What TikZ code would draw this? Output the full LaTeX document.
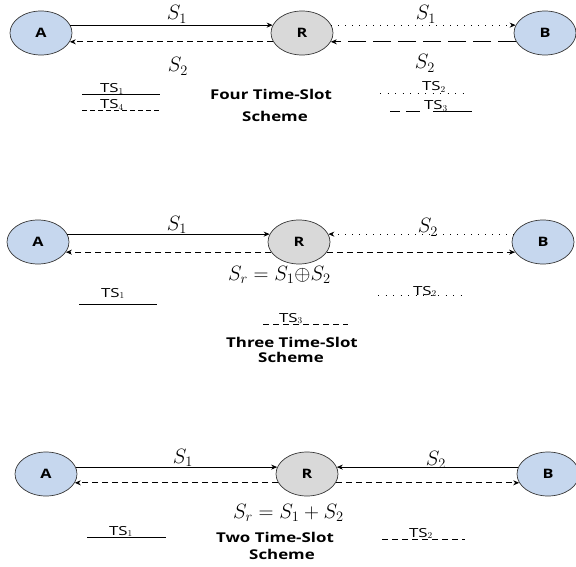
\documentclass[tikz,border=0pt]{standalone}
\usepackage{fontspec}
\newfontfamily\lbl[FakeStretch=1.25]{Open Sans}
\newfontfamily\slotfont[FakeStretch=1.35]{Open Sans}
\usetikzlibrary{shapes.geometric,arrows.meta}
\definecolor{endfill}{RGB}{198,215,238}
\definecolor{relayfill}{RGB}{217,217,217}
\definecolor{rim}{RGB}{55,55,55}

\begin{document}
\begin{tikzpicture}[x=1pt,y=-1pt,
  term/.style={ellipse,draw=rim,line width=0.7pt,minimum width=62pt,minimum height=44pt,
    inner sep=0pt,font=\lbl\bfseries\fontsize{13}{13}\selectfont},
  endpt/.style={term,fill=endfill},
  relay/.style={term,fill=relayfill},
  link/.style={line width=0.7pt,-{Stealth[length=6pt,width=5pt]}},
  dashedlink/.style={link,dash pattern=on 6pt off 4pt},
  dottedlink/.style={link,dash pattern=on 1pt off 6pt},
  longdash/.style={link,dash pattern=on 18pt off 7pt},
  sig/.style={font=\fontsize{22}{26}\selectfont,anchor=base,inner sep=0pt},
  eqn/.style={font=\fontsize{22}{26}\selectfont,anchor=base west,inner sep=0pt},
  slot/.style={line width=0.7pt},
  slotlbl/.style={font=\slotfont\fontsize{12.5}{14}\selectfont,anchor=base,inner sep=0pt},
  scheme/.style={font=\lbl\bfseries\fontsize{13.5}{17}\selectfont,anchor=base,inner sep=0pt}
]
\useasboundingbox[fill=white] (0,0) rectangle (576,567);

% ---------- four time-slot scheme ----------
\node[endpt] (A1) at (41,33) {A};
\node[relay] (R1) at (302,33) {R};
\node[endpt] (B1) at (545,33) {B};
\draw[link] (A1.15) -- (R1.165);
\draw[dashedlink] (R1.197) -- (A1.343);
\draw[dottedlink] (R1.15) -- (B1.165);
\draw[longdash] (B1.197) -- (R1.343);
\node[sig] (s1a) at (177,20) {$S_1$};
\node[sig] (s2a) at (178,72) {$S_2$};
\node[sig] (s1b) at (426,20) {$S_1$};
\node[sig] (s2b) at (425,69) {$S_2$};

\draw[slot] (82,94) -- (160,94);
\draw[slot,dash pattern=on 5pt off 3pt] (82,110) -- (160,110);
\draw[slot,dash pattern=on 1pt off 6.5pt] (380,93) -- (470,93);
\draw[slot,dash pattern=on 10pt off 6pt on 14pt off 13pt on 40pt off 0pt] (390,111) -- (472,111);
\node[slotlbl] (ts1a) at (112,93) {TS$_1$};
\node[slotlbl] (ts4a) at (112,109) {TS$_4$};
\node[slotlbl] (ts2a) at (434,91) {TS$_2$};
\node[slotlbl] (ts3a) at (436,110) {TS$_3$};
\node[scheme] (h1) at (271,100) {Four Time-Slot};
\node[scheme] (h1b) at (275,122) {Scheme};

% ---------- three time-slot scheme ----------
\node[endpt] (A2) at (38,242) {A};
\node[relay] (R2) at (299,242) {R};
\node[endpt] (B2) at (543,242) {B};
\draw[link] (A2.15) -- (R2.165);
\draw[dashedlink] (R2.200) -- (A2.340);
\draw[dottedlink] (B2.165) -- (R2.15);
\draw[dashedlink] (R2.340) -- (B2.200);
\node[sig] (s1c) at (177,230) {$S_1$};
\node[sig] (s2c) at (428,233) {$S_2$};
\node[eqn] (eq2) at (228,280) {$S_r = S_1 {\oplus} S_2$};

\draw[slot] (79,304) -- (157,304);
\draw[slot,dash pattern=on 1pt off 6.5pt] (378,295) -- (465,295);
\draw[slot,dash pattern=on 6pt off 4pt] (263,324) -- (348,324);
\node[slotlbl] (ts1b) at (113,297) {TS$_1$};
\node[slotlbl] (ts2b) at (425,295) {TS$_2$};
\node[slotlbl] (ts3b) at (291,322) {TS$_3$};
\node[scheme] (h2) at (292,347) {Three Time-Slot};
\node[scheme] (h2b) at (291,362) {Scheme};

% ---------- two time-slot scheme ----------
\node[endpt] (A3) at (46,474) {A};
\node[relay] (R3) at (307,474) {R};
\node[endpt] (B3) at (548,474) {B};
\draw[link] (A3.13) -- (R3.167);
\draw[dashedlink] (R3.197) -- (A3.343);
\draw[link] (B3.167) -- (R3.13);
\draw[dashedlink] (R3.343) -- (B3.197);
\node[sig] (s1d) at (183,463) {$S_1$};
\node[sig] (s2d) at (436,465) {$S_2$};
\node[eqn] (eq3) at (233,518) {$S_r = S_1 + S_2$};

\draw[slot] (87,537) -- (166,537);
\draw[slot,dash pattern=on 6pt off 4pt] (382,539) -- (465,539);
\node[slotlbl] (ts1c) at (121,535) {TS$_1$};
\node[slotlbl] (ts2c) at (421,537) {TS$_2$};
\node[scheme] (h3) at (275,542) {Two Time-Slot};
\node[scheme] (h3b) at (282,559) {Scheme};
\end{tikzpicture}
\end{document}
